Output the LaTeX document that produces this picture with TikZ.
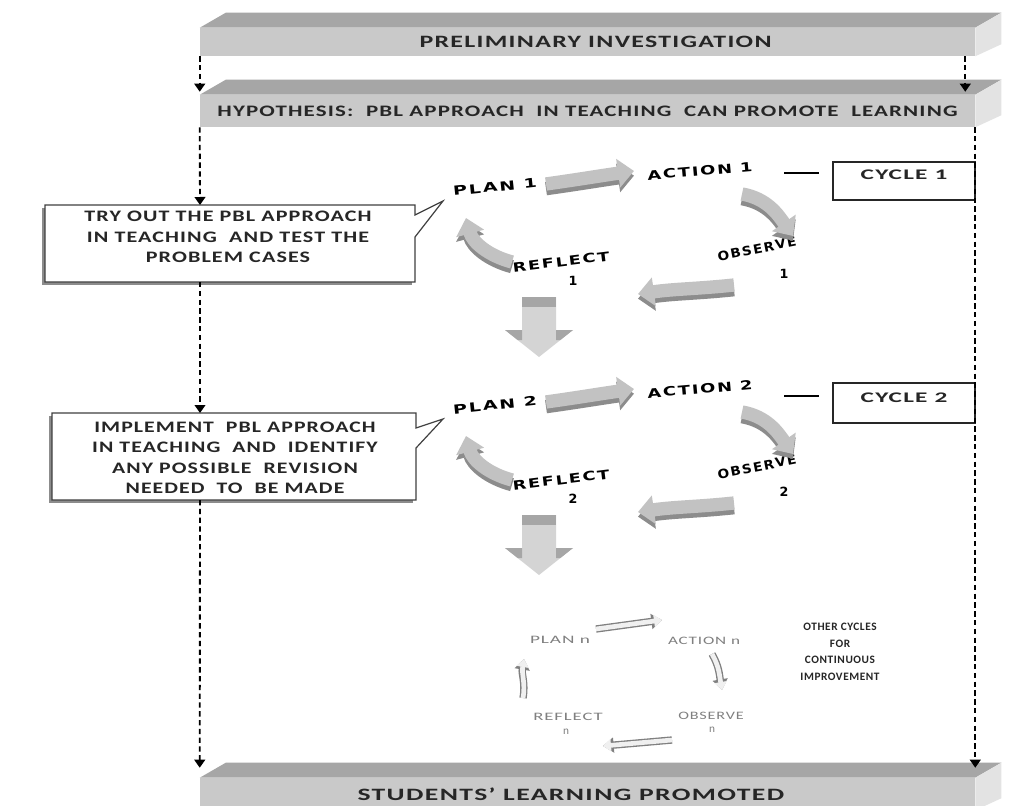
\documentclass[tikz,border=0pt]{standalone}
\usepackage{fontspec}
\usepackage{graphicx}
\setmainfont{Carlito}
\newfontfamily\spfont{Carlito}[LetterSpace=5]
\newfontfamily\dvfont{DejaVu Sans}[LetterSpace=10]
\usetikzlibrary{arrows.meta}
\definecolor{topface}{HTML}{A6A6A6}
\definecolor{frontface}{HTML}{C9C9C9}
\definecolor{sideface}{HTML}{E3E3E3}
\definecolor{arrlight}{HTML}{C2C2C2}
\definecolor{arrdark}{HTML}{8C8C8C}
\definecolor{stemlight}{HTML}{D4D4D4}
\newcommand\fitw[2]{\resizebox{#1}{\height}{#2}}
\newcommand\hstretch[2]{\scalebox{#1}[1]{#2}}
\newcommand\barsides[1]{%
  \fill[topface] (#1.north west) -- ([shift={(26,-15)}]#1.north west) -- ([shift={(26,-15)}]#1.north east) -- (#1.north east) -- cycle;
  \fill[sideface] (#1.north east) -- ([shift={(26,-15)}]#1.north east) -- ([shift={(26,-12)}]#1.south east) -- (#1.south east) -- cycle;}
\newcommand\blockarr[1]{\draw[blkD, transform canvas={yshift=-3.5pt}] #1; \draw[blkL] #1;}
\newcommand\faintarr[1]{\draw[nD] #1; \draw[nL] #1;}
\newcommand\downarr[1]{%
 \begin{scope}[shift={(0,#1)}]
  \fill[stemlight] (522,297) -- (556,297) -- (556,330) -- (573,330) -- (539,357) -- (505,330) -- (522,330) -- cycle;
  \fill[topface] (522,297) rectangle (556,307);
  \fill[topface] (505,330) -- (522,330) -- (522,340) -- (517.6,340) -- cycle;
  \fill[topface] (556,330) -- (573,330) -- (560.4,340) -- (556,340) -- cycle;
 \end{scope}}
\newcommand\cyclegroup[2]{%
 \begin{scope}[shift={(0,#2)}]
  \node[cyclab, rotate=6] (plan#1) at (495,187) {\fitw{63pt}{PLAN #1}};
  \node[cyclab, rotate=5] (action#1) at (700,171) {\fitw{79pt}{ACTION #1}};
  \node[cyclab, rotate=11] (observe#1) at (757,249) {\fitw{60pt}{OBSERVE}};
  \node[cyclab] (observenum#1) at (784,274) {#1};
  \node[cyclab, rotate=7] (reflect#1) at (561,262) {\fitw{73pt}{REFLECT}};
  \node[cyclab] (reflectnum#1) at (573,281) {#1};
  \coordinate (pa#1s) at (546,184); \coordinate (pa#1e) at (634,171);
  \coordinate (ao#1s) at (742,194); \coordinate (ao#1e) at (793,236);
  \coordinate (or#1s) at (734,285); \coordinate (or#1e) at (638,294);
  \coordinate (rp#1s) at (512,262); \coordinate (rp#1e) at (466,218);
  \blockarr{(pa#1s) to[out=8,in=188] (pa#1e)}
  \blockarr{(ao#1s) to[out=-10,in=125] (ao#1e)}
  \blockarr{(or#1s) to[out=186,in=8] (or#1e)}
  \blockarr{(rp#1s) to[out=165,in=-75] (rp#1e)}
 \end{scope}}
\begin{document}
\begin{tikzpicture}[x=0.75pt,y=-0.75pt,
  barface/.style={fill=frontface, minimum width=581.25pt, inner sep=0pt, text=black!85,
    font=\spfont\bfseries\fontsize{13}{15}\selectfont},
  calltext/.style={font=\spfont\bfseries\fontsize{12}{15.4}\selectfont, align=center, text=black!85},
  cyclab/.style={font=\dvfont\bfseries\fontsize{9.5}{11}\selectfont, text=black, inner sep=1pt},
  nlab/.style={font=\spfont\fontsize{8.5}{10}\selectfont, text=black!50, inner sep=1pt},
  boxtext/.style={font=\spfont\bfseries\fontsize{11}{13}\selectfont, text=black!85},
  dasharr/.style={line width=1.4pt, dash pattern=on 4pt off 2.6pt, -{Triangle[width=8pt,length=6pt]}},
  callout/.style={draw=black!75, line width=0.9pt, fill=white},
  blkL/.style={line width=10pt, draw=arrlight, -{Triangle[width=21pt,length=12pt]}},
  blkD/.style={line width=10pt, draw=arrdark, -{Triangle[width=21pt,length=12pt]}},
  nL/.style={line width=3.5pt, draw=black!6, -{Triangle[width=9pt,length=6pt]}},
  nD/.style={line width=5.5pt, draw=black!50, -{Triangle[width=11pt,length=8pt]}},
]
\useasboundingbox (0,0) rectangle (1020,806);
\fill[white] (0,0) rectangle (1020,806);

% ---- bars ----
\node[barface, minimum height=21pt] (bar1) at (587.5,42) {\hspace*{12pt}\fitw{264pt}{PRELIMINARY INVESTIGATION}};
\barsides{bar1}
\node[barface, minimum height=24pt, font=\spfont\bfseries\fontsize{12}{14}\selectfont] (bar2) at (587.5,111) {\fitw{555pt}{HYPOTHESIS:\ \ PBL APPROACH\ \ IN TEACHING\ \ CAN PROMOTE\ \ LEARNING}};
\barsides{bar2}
\node[barface, minimum height=24pt] (bar3) at (587.5,794) {\hspace*{-25pt}\fitw{320pt}{STUDENTS’ LEARNING PROMOTED}};
\barsides{bar3}

% ---- callouts ----
\begin{scope}[shift={(-3,3)}]
 \fill[black!45] (45,205) -- (415,205) -- (415,282) -- (45,282) -- cycle;
 \fill[black!45] (52,413) -- (416,413) -- (416,500) -- (52,500) -- cycle;
\end{scope}
\draw[callout] (45,205) -- (415,205) -- (415,215) -- (443,201) -- (415,237) -- (415,282) -- (45,282) -- cycle;
\node[calltext] (co1) at (228,238) {\hstretch{1.38}{\begin{tabular}{@{}c@{}}TRY OUT THE PBL APPROACH\\IN TEACHING\ \ AND TEST THE\\PROBLEM CASES\end{tabular}}};
\coordinate (co1top) at (200,205);
\coordinate (co1bot) at (200,282);

\draw[callout] (52,413) -- (416,413) -- (416,428) -- (443,419) -- (416,448) -- (416,500) -- (52,500) -- cycle;
\node[calltext] (co2) at (235,459) {\hstretch{1.36}{\begin{tabular}{@{}c@{}}IMPLEMENT\ \ PBL APPROACH\\IN TEACHING\ \ AND\ \ IDENTIFY\\ANY POSSIBLE\ \ REVISION\\NEEDED\ \ TO\ \ BE MADE\end{tabular}}};
\coordinate (co2top) at (200,413);
\coordinate (co2bot) at (200,500);

% ---- cycle boxes ----
\node[draw=black!85, line width=0.9pt, minimum width=106.5pt, minimum height=28.5pt, inner sep=0pt, boxtext] (cyc1) at (904,181) {\raisebox{9pt}{\fitw{65pt}{CYCLE 1}}};
\draw[line width=0.9pt] ([shift={(-48,-8)}]cyc1.west) -- ([shift={(-13,-8)}]cyc1.west);
\node[draw=black!85, line width=0.9pt, minimum width=106.5pt, minimum height=30pt, inner sep=0pt, boxtext] (cyc2) at (904,403) {\raisebox{7.5pt}{\fitw{65pt}{CYCLE 2}}};
\draw[line width=0.9pt] ([shift={(-48,-7)}]cyc2.west) -- ([shift={(-13,-7)}]cyc2.west);

% ---- dashed connectors ----
\draw[dasharr] (bar1.south west) -- ([shift={(0,-3)}]bar2.north west);
\draw[dasharr] ([shift={(-10,0)}]bar1.south east) -- ([shift={(-10,-3)}]bar2.north east);
\draw[dasharr] (bar2.south west) -- (co1top);
\draw[dasharr] (co1bot) -- (co2top);
\draw[dasharr] (co2bot) -- ([shift={(0,-10)}]bar3.north west);
\draw[dasharr] (bar2.south east) -- ([shift={(0,-10)}]bar3.north east);

% ---- cycles 1 and 2 ----
\cyclegroup{1}{0}
\downarr{0}
\cyclegroup{2}{218}
\downarr{218}

% ---- cycle n ----
\node[nlab] (plann) at (560,640) {\fitw{45pt}{PLAN n}};
\node[nlab] (actionn) at (704,641) {\fitw{54pt}{ACTION n}};
\node[nlab] (observen) at (711,716) {\fitw{49pt}{OBSERVE}};
\node[nlab] (observennum) at (712,730) {n};
\node[nlab] (reflectn) at (568,717) {\fitw{52pt}{REFLECT}};
\node[nlab] (reflectnnum) at (566,732) {n};
\coordinate (pans) at (596,629); \coordinate (pane) at (662,620);
\coordinate (aons) at (712,654); \coordinate (aone) at (722,690);
\coordinate (orns) at (672,740); \coordinate (orne) at (603,746);
\coordinate (rpns) at (523,698); \coordinate (rpne) at (524,659);
\faintarr{(pans) -- (pane)}
\faintarr{(aons) to[out=-60,in=100] (aone)}
\faintarr{(orns) -- (orne)}
\faintarr{(rpns) to[out=80,in=-100] (rpne)}

\node[font=\spfont\bfseries\fontsize{8.5}{12.4}\selectfont, align=center, text=black!85] (other) at (840,652) {OTHER CYCLES\\FOR\\CONTINUOUS\\IMPROVEMENT};
\end{tikzpicture}
\end{document}
